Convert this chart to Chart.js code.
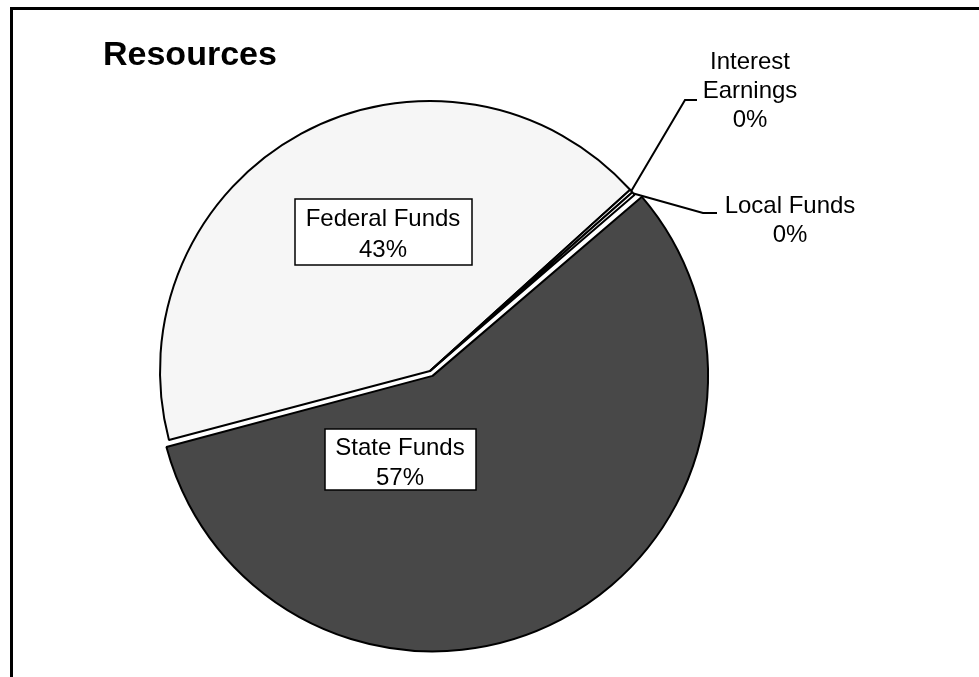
<!DOCTYPE html>
<html>
<head>
<meta charset="utf-8">
<script src="https://cdn.jsdelivr.net/npm/chart.js@4/dist/chart.umd.min.js"></script>
<style>
  html, body { margin: 0; padding: 0; background: #fff; }
  #wrap { position: relative; width: 979px; height: 677px; overflow: hidden; }
  #frame { position: absolute; left: 10px; top: 7px; width: 980px; height: 690px;
           border-top: 3px solid #000; border-left: 3px solid #000; box-sizing: border-box; }
  canvas { position: absolute; left: 0; top: 0; }
</style>
</head>
<body>
<div id="wrap">
  <div id="frame"></div>
  <canvas id="c" width="979" height="677"></canvas>
</div>
<script>
const title = "Resources";
const categories = ["Federal Funds", "Interest Earnings", "Local Funds", "State Funds"];
const values = [42.4, 0.2, 0.2, 57.2];
const percentLabels = ["43%", "0%", "0%", "57%"];
const sliceColors = ["#f6f6f6", "#ffffff", "#ffffff", "#484848"];
const sliceOffsets = [0, 0, 0, 22];

// label layout (positions only)
const labelLayout = [
  { cx: 383, y: 219, gap: 31, box: [295, 199, 177, 66], lines: ["Federal Funds"] },
  { cx: 750, y: 62, gap: 29, box: null, lines: ["Interest", "Earnings"], leader: [[685, 100], [697, 100]] },
  { cx: 790, y: 206, gap: 29, box: null, lines: ["Local Funds"], leader: [[703, 213], [717, 213]] },
  { cx: 400, y: 448, gap: 30, box: [325, 429, 151, 61], lines: ["State Funds"] }
];

const FONT = "24px 'Liberation Sans', Arial, sans-serif";

const labelPlugin = {
  id: 'labels',
  afterDraw(chart) {
    const ctx = chart.ctx;
    const meta = chart.getDatasetMeta(0);
    ctx.save();
    ctx.fillStyle = '#000';
    ctx.font = "bold 34px 'Liberation Sans', Arial, sans-serif";
    ctx.textAlign = 'left';
    ctx.textBaseline = 'alphabetic';
    ctx.fillText(title, 103, 65);

    labelLayout.forEach((L, i) => {
      const el = meta.data[i];
      if (L.leader) {
        const mid = (el.startAngle + el.endAngle) / 2;
        const sx = el.x + Math.cos(mid) * el.outerRadius;
        const sy = el.y + Math.sin(mid) * el.outerRadius;
        ctx.beginPath();
        ctx.strokeStyle = '#000';
        ctx.lineWidth = 2;
        ctx.moveTo(sx, sy);
        L.leader.forEach(p => ctx.lineTo(p[0], p[1]));
        ctx.stroke();
      }
      if (L.box) {
        ctx.fillStyle = '#fff';
        ctx.fillRect(L.box[0], L.box[1], L.box[2], L.box[3]);
        ctx.strokeStyle = '#000';
        ctx.lineWidth = 1.5;
        ctx.strokeRect(L.box[0], L.box[1], L.box[2], L.box[3]);
      }
      ctx.fillStyle = '#000';
      ctx.font = FONT;
      ctx.textAlign = 'center';
      ctx.textBaseline = 'middle';
      const lines = L.lines.concat([percentLabels[i]]);
      lines.forEach((t, k) => ctx.fillText(t, L.cx, L.y + k * L.gap));
    });
    ctx.restore();
  }
};

new Chart(document.getElementById('c'), {
  type: 'pie',
  data: {
    labels: categories,
    datasets: [{
      data: values,
      backgroundColor: sliceColors,
      borderColor: '#000',
      borderWidth: 2,
      offset: sliceOffsets,
      radius: 270
    }]
  },
  options: {
    responsive: false,
    animation: false,
    events: [],
    rotation: 255.2,
    layout: { padding: { left: 0, right: 119, top: 65, bottom: 0 } },
    plugins: { legend: { display: false }, tooltip: { enabled: false }, title: { display: false } }
  },
  plugins: [labelPlugin]
});
</script>
</body>
</html>
